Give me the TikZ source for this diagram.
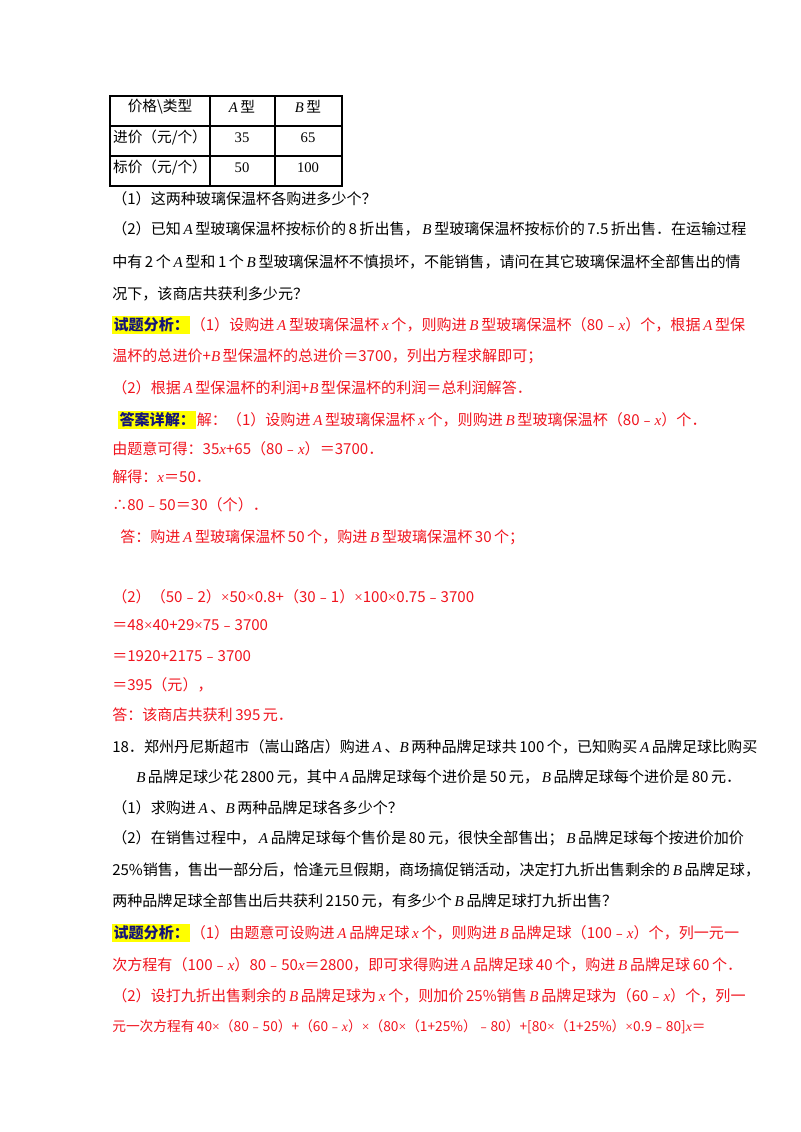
\documentclass[tikz,border=0pt]{standalone}
\usepackage{fontspec}
\setmainfont{Noto Sans CJK SC}
\newfontfamily\latin{Liberation Serif}
\newcommand\ix[1]{\hspace{2pt}{\latin\itshape #1}\hspace{2pt}}
\newcommand\iy[1]{{\latin\itshape #1}}
\newcommand\tm{{\latin ×}}
\definecolor{ansred}{RGB}{240,20,30}
\definecolor{hl}{RGB}{255,255,0}
\definecolor{hlt}{RGB}{20,20,120}
\tikzset{ln/.style={anchor=west,inner sep=0pt,font=\fontsize{11.3pt}{13pt}\selectfont},
 rd/.style={ln,text=ansred},
 tag/.style={anchor=west,inner sep=1pt,fill=hl,text=hlt,font=\fontsize{11.3pt}{13pt}\selectfont\bfseries},
 cell/.style={inner sep=0pt,font=\fontsize{11pt}{12pt}\selectfont}}
\begin{document}
\begin{tikzpicture}[x=0.75pt,y=-0.75pt]
\useasboundingbox (0,0) rectangle (800,1132);
% table
\draw[line width=0.9pt] (110,96) rectangle (342,186);
\draw[line width=0.9pt] (110,126) -- (342,126) (110,156) -- (342,156) (210,96) -- (210,186) (275,96) -- (275,186);
\node[cell] (h1) at (160,107) {价格\textbackslash 类型};
\node[cell] (h2) at (242,107) {\iy{A}\,型};
\node[cell] (h3) at (308,107) {\iy{B}\,型};
\node[cell] (r1) at (160,138) {进价（元/个）};
\node[cell] (a1) at (242,138) {{\latin 35}};
\node[cell] (b1) at (308,138) {{\latin 65}};
\node[cell] (r2) at (160,168) {标价（元/个）};
\node[cell] (a2) at (242,168) {{\latin 50}};
\node[cell] (b2) at (308,168) {{\latin 100}};
% text lines
\node[ln] (l1) at (112,199) {（1）这两种玻璃保温杯各购进多少个？};
\node[ln] (l2) at (112,229) {（2）已知\ix{A}型玻璃保温杯按标价的\,8\,折出售，\ix{B}型玻璃保温杯按标价的\,7.5\,折出售．在运输过程};
\node[ln] (l3) at (112,262) {中有\,2\,个\ix{A}型和\,1\,个\ix{B}型玻璃保温杯不慎损坏，不能销售，请问在其它玻璃保温杯全部售出的情};
\node[ln] (l4) at (112,294) {况下，该商店共获利多少元？};
\node[tag] (t1) at (112,325) {试题分析：};
\node[rd] (l5) at (t1.east) {（1）设购进\ix{A}型玻璃保温杯\ix{x}个，则购进\ix{B}型玻璃保温杯（80﹣\iy{x}）个，根据\ix{A}型保};
\node[rd] (l6) at (112,356) {温杯的总进价+\iy{B}\,型保温杯的总进价＝3700，列出方程求解即可；};
\node[rd] (l7) at (112,388) {（2）根据\ix{A}型保温杯的利润+\iy{B}\,型保温杯的利润＝总利润解答．};
\node[tag] (t2) at (118,420) {答案详解：};
\node[rd] (l8) at (t2.east) {解：（1）设购进\ix{A}型玻璃保温杯\ix{x}个，则购进\ix{B}型玻璃保温杯（80﹣\iy{x}）个．};
\node[rd] (l9) at (112,449) {由题意可得：35\iy{x}+65（80﹣\iy{x}）＝3700．};
\node[rd] (l10) at (112,477) {解得：\iy{x}＝50．};
\node[rd] (l11) at (112,505) {∴80﹣50＝30（个）．};
\node[rd] (l12) at (120,537) {答：购进\ix{A}型玻璃保温杯\,50\,个，购进\ix{B}型玻璃保温杯\,30\,个；};
\node[rd] (l13) at (112,597) {（2）（50﹣2）\tm 50\tm 0.8+（30﹣1）\tm 100\tm 0.75﹣3700};
\node[rd] (l14) at (112,625) {＝48\tm 40+29\tm 75﹣3700};
\node[rd] (l15) at (112,656) {＝1920+2175﹣3700};
\node[rd] (l16) at (112,685) {＝395（元），};
\node[rd] (l17) at (112,715) {答：该商店共获利\,395\,元．};
\node[ln] (l18) at (112,747) {18．郑州丹尼斯超市（嵩山路店）购进\ix{A}、\iy{B}\,两种品牌足球共\,100\,个，已知购买\ix{A}品牌足球比购买};
\node[ln] (l19) at (136,777) {\iy{B}\,品牌足球少花\,2800\,元，其中\ix{A}品牌足球每个进价是\,50\,元，\ix{B}品牌足球每个进价是\,80\,元．};
\node[ln] (l20) at (112,808) {（1）求购进\ix{A}、\iy{B}\,两种品牌足球各多少个？};
\node[ln] (l21) at (112,838) {（2）在销售过程中，\ix{A}品牌足球每个售价是\,80\,元，很快全部售出；\ix{B}品牌足球每个按进价加价};
\node[ln] (l22) at (112,870) {25\%销售，售出一部分后，恰逢元旦假期，商场搞促销活动，决定打九折出售剩余的\ix{B}品牌足球，};
\node[ln] (l23) at (112,901) {两种品牌足球全部售出后共获利\,2150\,元，有多少个\ix{B}品牌足球打九折出售？};
\node[tag] (t3) at (112,933) {试题分析：};
\node[rd] (l24) at (t3.east) {（1）由题意可设购进\ix{A}品牌足球\ix{x}个，则购进\ix{B}品牌足球（100﹣\iy{x}）个，列一元一};
\node[rd] (l25) at (112,965) {次方程有（100﹣\iy{x}）80﹣50\iy{x}＝2800，即可求得购进\ix{A}品牌足球\,40\,个，购进\ix{B}品牌足球\,60\,个．};
\node[rd] (l26) at (112,996) {（2）设打九折出售剩余的\ix{B}品牌足球为\ix{x}个，则加价\,25\%销售\ix{B}品牌足球为（60﹣\iy{x}）个，列一};
\node[rd,font=\fontsize{10.3pt}{12pt}\selectfont] (l27) at (112,1027) {元一次方程有\,40\tm（80﹣50）+（60﹣\iy{x}）\tm（80\tm（1+25\%）﹣80）+[80\tm（1+25\%）\tm 0.9﹣80]\iy{x}＝};
\end{tikzpicture}
\end{document}
